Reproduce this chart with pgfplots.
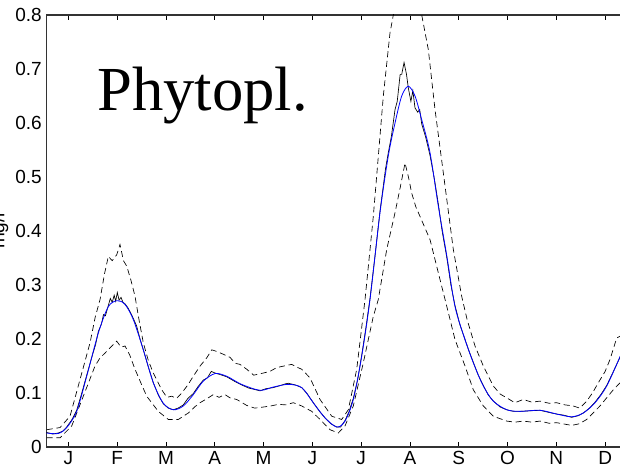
\documentclass[border=0pt]{standalone}
\usepackage{fontspec}
\setmainfont{Liberation Serif}
\newfontfamily\arial{Liberation Sans}
\usepackage{pgfplots}
\pgfplotsset{compat=1.18}
\definecolor{mblue}{RGB}{0,0,255}
\begin{document}
\begin{tikzpicture}
\begin{axis}[
  at={(0,0)}, anchor=south west,
  scale only axis, width=431pt, height=324pt,
  xmin=0.553, xmax=12.329, ymin=0, ymax=0.8,
  axis line style={line width=0.9pt, draw=black!80},
  xtick={1,2,3,4,5,6,7,8,9,10,11,12},
  xticklabels={J,F,M,A,M,J,J,A,S,O,N,D},
  ytick={0,0.1,0.2,0.3,0.4,0.5,0.6,0.7,0.8},
  yticklabels={0,0.1,0.2,0.3,0.4,0.5,0.6,0.7,0.8},
  tick align=inside, major tick length=3.8pt,
  xtick style={line width=0.6pt, black},
  ytick style={draw=none},
  tick label style={font=\arial\fontsize{14.25}{16}\selectfont},
  ylabel={mg/l},
  ylabel style={at={(axis description cs:0,0.5)}, anchor=base, yshift=31.5pt,
    font=\arial\fontsize{14.25}{16}\selectfont},
]
% upper band
\addplot[black, line width=0.5pt, dash pattern=on 4.5pt off 2.8pt] coordinates {
(0.557,0.032) (0.830,0.036) (1.035,0.057) (1.240,0.125) (1.445,0.193) (1.55,0.240) (1.650,0.273) (1.74,0.320) (1.820,0.353) (1.90,0.345) (1.992,0.356) (2.059,0.375) (2.13,0.345) (2.197,0.335) (2.28,0.310) (2.367,0.279) (2.45,0.235) (2.537,0.193) (2.64,0.160) (2.742,0.137) (2.914,0.106) (3.02,0.092) (3.119,0.094) (3.22,0.090) (3.324,0.100) (3.45,0.115) (3.561,0.131) (3.70,0.150) (3.836,0.165) (3.94,0.180) (4.041,0.177) (4.17,0.172) (4.314,0.166) (4.42,0.155) (4.518,0.153) (4.656,0.144) (4.80,0.133) (4.996,0.137) (5.13,0.140) (5.270,0.147) (5.42,0.150) (5.578,0.153) (5.68,0.148) (5.783,0.144) (5.953,0.128) (6.158,0.088) (6.398,0.057) (6.602,0.051) (6.738,0.069) (6.910,0.144) (7.080,0.273) (7.250,0.427) (7.455,0.650) (7.592,0.767) (7.660,0.800) (7.80,0.835) (7.95,0.850) (8.10,0.845) (8.242,0.800) (8.377,0.736) (8.514,0.625) (8.684,0.508) (8.889,0.366) (9.061,0.279) (9.172,0.236) (9.334,0.187) (9.504,0.150) (9.709,0.113) (9.85,0.098) (9.984,0.091) (10.15,0.082) (10.324,0.088) (10.50,0.083) (10.666,0.085) (10.85,0.081) (11.008,0.082) (11.18,0.078) (11.348,0.076) (11.48,0.072) (11.623,0.085) (11.74,0.100) (11.861,0.119) (12.00,0.140) (12.100,0.162) (12.238,0.202) (12.329,0.206)
};
% lower band
\addplot[black, line width=0.5pt, dash pattern=on 4.5pt off 2.8pt] coordinates {
(0.557,0.017) (0.830,0.017) (1.070,0.039) (1.307,0.094) (1.547,0.150) (1.65,0.165) (1.752,0.174) (1.87,0.185) (1.992,0.196) (2.08,0.185) (2.162,0.187) (2.26,0.170) (2.367,0.144) (2.49,0.118) (2.607,0.094) (2.844,0.066) (3.049,0.051) (3.254,0.051) (3.459,0.063) (3.60,0.075) (3.699,0.082) (3.85,0.090) (3.971,0.097) (4.09,0.092) (4.211,0.097) (4.314,0.091) (4.451,0.088) (4.656,0.077) (4.82,0.072) (4.996,0.074) (5.15,0.076) (5.303,0.079) (5.45,0.078) (5.611,0.082) (5.783,0.076) (5.988,0.066) (6.158,0.051) (6.363,0.032) (6.533,0.026) (6.670,0.039) (6.840,0.076) (7.045,0.156) (7.250,0.242) (7.352,0.273) (7.525,0.366) (7.695,0.434) (7.80,0.480) (7.900,0.526) (7.97,0.500) (8.037,0.470) (8.12,0.445) (8.207,0.427) (8.412,0.384) (8.617,0.310) (8.754,0.261) (8.924,0.199) (9.129,0.150) (9.299,0.106) (9.504,0.076) (9.709,0.057) (9.984,0.048) (10.15,0.046) (10.324,0.048) (10.50,0.046) (10.666,0.048) (10.85,0.044) (11.008,0.045) (11.316,0.040) (11.47,0.043) (11.623,0.051) (11.895,0.076) (12.168,0.106) (12.329,0.121)
};
% observed (noisy)
\addplot[black, line width=0.5pt] coordinates {
(0.553,0.027) (0.68,0.024) (0.795,0.026) (0.88,0.029) (0.967,0.037) (1.07,0.050) (1.172,0.068) (1.27,0.098) (1.377,0.133) (1.50,0.172) (1.56,0.190) (1.615,0.214) (1.68,0.228) (1.72,0.245) (1.76,0.243) (1.820,0.262) (1.86,0.275) (1.90,0.268) (1.94,0.281) (1.97,0.270) (2.004,0.286) (2.04,0.272) (2.08,0.277) (2.12,0.268) (2.162,0.265) (2.22,0.258) (2.28,0.248) (2.332,0.238) (2.40,0.224) (2.47,0.200) (2.537,0.180) (2.64,0.148) (2.742,0.119) (2.85,0.095) (2.947,0.080) (3.05,0.072) (3.152,0.069) (3.25,0.072) (3.357,0.078) (3.45,0.090) (3.561,0.099) (3.66,0.112) (3.766,0.124) (3.85,0.128) (3.93,0.140) (4.006,0.137) (4.08,0.135) (4.15,0.133) (4.246,0.130) (4.40,0.122) (4.55,0.115) (4.70,0.109) (4.80,0.107) (4.928,0.104) (5.05,0.108) (5.201,0.110) (5.35,0.114) (5.45,0.117) (5.508,0.118) (5.65,0.115) (5.783,0.110) (5.90,0.098) (6.020,0.082) (6.14,0.067) (6.260,0.054) (6.38,0.043) (6.500,0.037) (6.58,0.037) (6.670,0.049) (6.75,0.065) (6.840,0.090) (6.93,0.125) (7.012,0.170) (7.10,0.222) (7.182,0.275) (7.28,0.350) (7.387,0.437) (7.45,0.480) (7.50,0.515) (7.557,0.545) (7.62,0.575) (7.695,0.625) (7.74,0.640) (7.80,0.690) (7.832,0.690) (7.88,0.712) (7.93,0.690) (7.967,0.665) (8.02,0.640) (8.06,0.660) (8.104,0.628) (8.16,0.620) (8.20,0.625) (8.242,0.598) (8.32,0.575) (8.412,0.540) (8.50,0.497) (8.582,0.450) (8.66,0.400) (8.754,0.352) (8.84,0.300) (8.924,0.262) (9.02,0.228) (9.129,0.199) (9.21,0.178) (9.299,0.157) (9.40,0.133) (9.504,0.114) (9.60,0.097) (9.709,0.085) (9.85,0.074) (9.984,0.069) (10.12,0.066) (10.256,0.066) (10.45,0.067) (10.666,0.068) (10.85,0.064) (11.008,0.061) (11.15,0.059) (11.316,0.055) (11.45,0.058) (11.553,0.063) (11.68,0.072) (11.793,0.083) (11.92,0.098) (12.033,0.114) (12.17,0.140) (12.329,0.171)
};
% smoothed mean
\addplot[mblue, line width=0.6pt, smooth, tension=0.5] coordinates {
(0.553,0.026) (0.795,0.025) (0.967,0.036) (1.172,0.066) (1.377,0.131) (1.615,0.211) (1.820,0.260) (2.004,0.271) (2.162,0.264) (2.332,0.236) (2.537,0.180) (2.742,0.119) (2.947,0.081) (3.152,0.069) (3.357,0.076) (3.561,0.097) (3.766,0.122) (4.006,0.136) (4.246,0.131) (4.55,0.116) (4.928,0.105) (5.201,0.111) (5.508,0.116) (5.783,0.110) (6.020,0.082) (6.260,0.054) (6.500,0.037) (6.670,0.048) (6.840,0.088) (7.012,0.168) (7.182,0.273) (7.387,0.434) (7.557,0.539) (7.695,0.600) (7.832,0.650) (7.967,0.668) (8.104,0.650) (8.242,0.606) (8.412,0.545) (8.582,0.446) (8.754,0.355) (8.924,0.260) (9.129,0.199) (9.299,0.156) (9.504,0.113) (9.709,0.085) (9.984,0.069) (10.256,0.066) (10.666,0.068) (11.008,0.061) (11.316,0.056) (11.553,0.063) (11.793,0.082) (12.033,0.113) (12.329,0.172)
};
\node[anchor=base west, inner sep=0pt, font=\fontsize{47}{56}\selectfont]
  at (rel axis cs:0.088,0.778) {Phytopl.};
\end{axis}
\pgfresetboundingbox
\useasboundingbox (-34.875pt,-18pt) rectangle (430.125pt,335.25pt);
\end{tikzpicture}
\end{document}
